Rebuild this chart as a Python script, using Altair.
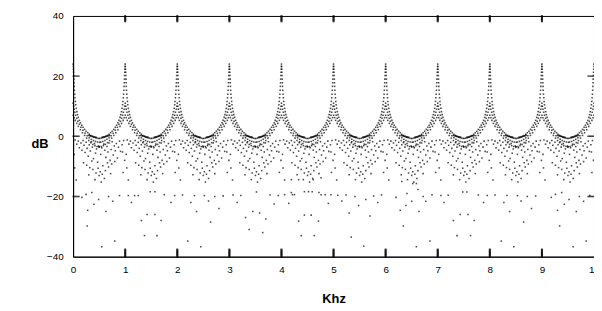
import altair as alt
import pandas as pd

# ---- upper comb curves: offset from a peak (kHz), dB; mirrored on both sides of each peak ----
peaks_khz = [0, 1, 2, 3, 4, 5, 6, 7, 8, 9, 10]
mids_khz = [0.5, 1.5, 2.5, 3.5, 4.5, 5.5, 6.5, 7.5, 8.5, 9.5]

u_off = [0.000, 0.003, 0.006, 0.009, 0.012, 0.015, 0.018, 0.021, 0.025, 0.030, 0.036, 0.043,
         0.050, 0.060, 0.072, 0.085, 0.100, 0.120, 0.140, 0.165, 0.190, 0.220, 0.250, 0.280,
         0.310, 0.340, 0.370, 0.400, 0.430, 0.460, 0.490]
u_db = [24.0, 23.2, 22.3, 21.3, 20.2, 19.0, 17.8, 16.6, 15.3, 14.0, 12.8, 11.6,
        10.5, 9.3, 8.2, 7.2, 6.3, 5.3, 4.5, 3.7, 3.0, 2.3, 1.7, 1.2,
        0.7, 0.3, 0.0, -0.3, -0.5, -0.6, -0.7]

b_off = [0.0, 0.01, 0.02, 0.035, 0.05, 0.07, 0.09, 0.12, 0.15, 0.19, 0.23, 0.27, 0.31, 0.35, 0.39, 0.43, 0.47]
b_db = [11, 10, 9, 8, 7, 6, 5, 4, 3, 2, 1, 0.2, -0.5, -1, -1.4, -1.7, -1.9]

c_off = [0.0, 0.02, 0.04, 0.07, 0.1, 0.14, 0.18, 0.22, 0.26, 0.3, 0.34, 0.38, 0.42, 0.46, 0.5]
c_db = [7, 6.2, 5.3, 4.3, 3.3, 2.2, 1.2, 0.3, -0.6, -1.4, -2.1, -2.7, -3.1, -3.4, -3.5]

h_off = [0.30, 0.32, 0.34, 0.36, 0.38, 0.40, 0.42, 0.44]
h_db = [0.3, 0.2, 0.1, 0.0, -0.1, -0.2, -0.2, -0.3]

# ---- scattered cloud under each U: offset from the midpoint between peaks (kHz), dB ----
cloud_off = [
    -0.46, -0.43, -0.40, -0.38, -0.35, -0.33, -0.31, -0.29, -0.27, -0.25, -0.23, -0.21,
    -0.19, -0.17, -0.15, -0.13, -0.11, -0.09, -0.07, -0.05, -0.03, -0.01, 0.01, 0.03,
    0.05, 0.07, 0.09, 0.11, 0.13, 0.15, 0.17, 0.19, 0.21, 0.23, 0.25, 0.27, 0.29, 0.31,
    0.33, 0.35, 0.37, 0.39, 0.41, 0.44, 0.47,
    -0.30, -0.24, -0.18, -0.12, -0.06, 0.00, 0.06, 0.12, 0.18, 0.24, 0.30,
    -0.20, -0.08, 0.04, 0.10, 0.22, -0.14, 0.16, -0.02, 0.02,
    -0.48, 0.49, -0.47, 0.46, -0.44, 0.45,
]
cloud_db = [
    -1.2, -2.6, -1.6, -3.8, -2.2, -4.6, -1.4, -3.0, -5.4, -2.0, -4.0, -6.6,
    -2.8, -4.9, -1.8, -3.6, -7.4, -2.4, -5.6, -4.2, -8.6, -3.2, -2.0, -6.0,
    -3.8, -9.8, -2.6, -4.6, -7.0, -3.4, -5.2, -2.2, -8.0, -4.4, -1.8, -6.2, -3.2, -4.8,
    -2.4, -7.2, -3.6, -1.6, -5.0, -2.8, -1.4,
    -8.8, -9.6, -10.4, -11.0, -12.2, -13.0, -12.6, -11.4, -10.2, -9.2, -8.4,
    -12.8, -14.4, -15.2, -14.0, -12.4, -8.2, -8.8, -10.6, -11.8,
    -6.0, -8.0, -10.5, -12.0, -14.5, -5.2,
]

# ---- sparse low dots, read per period (kHz, dB) ----
sparse_khz = [
    0.17, 0.25, 0.27, 0.28, 0.36, 0.40, 0.49, 0.55, 0.63, 0.68, 0.76, 0.80, 0.89,
    1.06, 1.12, 1.18, 1.25, 1.31, 1.37, 1.42, 1.48, 1.57, 1.57, 1.61, 1.69, 1.75, 1.88, 1.95,
    2.10, 2.20, 2.26, 2.33, 2.37, 2.45, 2.52, 2.60, 2.64, 2.72, 2.80, 2.88,
    3.07, 3.15, 3.22, 3.31, 3.38, 3.45, 3.52, 3.58, 3.64, 3.70, 3.78, 3.86, 3.94,
    4.06, 4.14, 4.19, 4.19, 4.21, 4.25, 4.33, 4.33, 4.38, 4.44, 4.44, 4.52, 4.57, 4.59, 4.61,
    4.63, 4.71, 4.72, 4.76, 4.76, 4.84, 4.90, 4.95,
    5.08, 5.16, 5.24, 5.30, 5.34, 5.41, 5.48, 5.58, 5.62, 5.70, 5.77, 5.85, 5.92,
    6.20, 6.28, 6.31, 6.34, 6.39, 6.41, 6.50, 6.52, 6.59, 6.59, 6.62, 6.64, 6.72, 6.77, 6.85, 6.89,
    7.06, 7.12, 7.20, 7.30, 7.37, 7.43, 7.48, 7.56, 7.58, 7.63, 7.70, 7.78, 7.88, 7.95,
    8.10, 8.22, 8.27, 8.33, 8.38, 8.46, 8.53, 8.60, 8.65, 8.72, 8.80, 8.88,
    9.18, 9.26, 9.30, 9.34, 9.38, 9.43, 9.52, 9.60, 9.66, 9.72, 9.80, 9.85, 9.92,
]
sparse_db = [
    -20.3, -19.3, -29.8, -24.6, -18.7, -22.6, -21.0, -36.7, -25.0, -20.0, -21.6, -34.8, -19.7,
    -19.7, -22.0, -19.7, -19.7, -28.0, -33.0, -26.0, -18.4, -18.4, -26.0, -33.0, -28.0, -19.4, -22.0, -19.7,
    -19.5, -34.8, -22.0, -19.7, -25.0, -36.7, -19.7, -21.5, -28.5, -20.0, -24.0, -19.8,
    -19.5, -22.0, -19.7, -27.0, -31.0, -25.0, -18.5, -25.5, -32.0, -27.5, -19.5, -22.5, -19.7,
    -19.4, -22.3, -14.4, -18.7, -19.4, -19.4, -14.4, -28.2, -33.0, -18.4, -26.2, -18.4, -26.2, -18.4, -14.4,
    -33.0, -28.2, -18.7, -13.8, -19.4, -19.4, -22.3, -19.4,
    -19.6, -21.5, -19.5, -25.5, -33.5, -20.0, -23.0, -36.5, -21.0, -26.5, -19.8, -22.0, -19.5,
    -20.3, -24.6, -15.0, -29.8, -23.0, -19.0, -21.6, -15.7, -36.7, -15.7, -17.7, -25.0, -20.0, -21.6, -34.8, -19.4,
    -19.7, -22.0, -19.6, -28.0, -33.0, -26.0, -18.5, -18.5, -26.0, -33.0, -28.0, -19.5, -22.0, -19.7,
    -19.5, -34.8, -22.0, -19.7, -25.0, -36.7, -19.7, -21.5, -28.5, -20.0, -24.0, -19.8,
    -20.3, -19.3, -24.6, -29.8, -18.7, -22.6, -21.0, -36.7, -25.0, -20.0, -21.6, -34.8, -19.7,
]

x_ticks = [0, 1, 2, 3, 4, 5, 6, 7, 8, 9, 10]
y_ticks = [-40, -20, 0, 20, 40]
inner_ticks = [1, 2, 3, 4, 5, 6, 7, 8, 9]
side_ticks = [-20, 0, 20]

# ---- place the read patterns ----
rows = []
for p in peaks_khz:
    for offs, dbs in [(u_off, u_db), (b_off, b_db), (c_off, c_db), (h_off, h_db)]:
        for o, d in zip(offs, dbs):
            for s in ([1] if o == 0 else [1, -1]):
                xv = p + s * o
                if 0 <= xv <= 10:
                    rows.append({"khz": xv, "db": d, "sz": 2.5})
for m in mids_khz:
    for o, d in zip(cloud_off, cloud_db):
        rows.append({"khz": m + o, "db": d, "sz": 2.5})
for xv, d in zip(sparse_khz, sparse_db):
    rows.append({"khz": xv, "db": d, "sz": 2.5})

# ---- inward tick marks, drawn as stacked 1px squares in the same mark ----
for t in inner_ticks:
    for k in range(9):          # bottom ticks, ~8 px tall
        rows.append({"khz": t, "db": -40 + 0.3 * k, "sz": 4})
    for k in range(7):          # top ticks, ~6 px tall
        rows.append({"khz": t, "db": 40 - 0.3 * k, "sz": 4})
for v in side_ticks:
    for k in range(7):          # left and right ticks, ~6 px long
        rows.append({"khz": 0.019 * k, "db": v, "sz": 2})
        rows.append({"khz": 10 - 0.019 * k, "db": v, "sz": 2})
dots = pd.DataFrame(rows)

xs = alt.Scale(domain=[0, 10], nice=False, zero=False)
ys = alt.Scale(domain=[-40, 40], nice=False, zero=False)
lab_font = "Liberation Sans"

chart = alt.Chart(dots).mark_square(color="black").encode(
    x=alt.X("khz:Q", scale=xs,
            axis=alt.Axis(values=x_ticks, ticks=False, grid=False, domainColor="black",
                          labelFont=lab_font, labelFontSize=10, labelColor="black",
                          labelPadding=8, labelFlush=False,
                          title="Khz", titleFont=lab_font, titleFontSize=13,
                          titleFontWeight="bold", titleColor="black",
                          titleX=264, titleY=42, titleBaseline="middle")),
    y=alt.Y("db:Q", scale=ys,
            axis=alt.Axis(values=y_ticks, ticks=False, grid=False, domainColor="black",
                          labelFont=lab_font, labelFontSize=10, labelColor="black",
                          labelPadding=10,
                          title="dB", titleFont=lab_font, titleFontSize=13,
                          titleFontWeight="bold", titleColor="black", titleAngle=0,
                          titleX=-34, titleY=129, titleAlign="center",
                          titleBaseline="middle")),
    size=alt.Size("sz:Q", scale=None, legend=None),
).properties(
    width=528, height=244,
    autosize=alt.AutoSizeParams(type="none"),
    padding={"left": 66, "top": 6, "right": 0, "bottom": 53},
    background="white",
).configure_view(stroke="black", strokeWidth=1)

chart.save("out.html", embed_options={"renderer": "svg", "actions": False})
